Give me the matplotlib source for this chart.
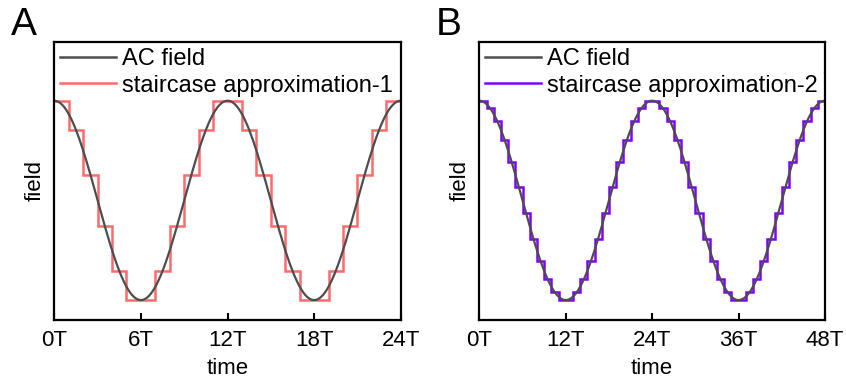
"""
AC field and its staircase approximations (panels A and B).
"""

import numpy as np
import matplotlib.pyplot as plt

plt.rcParams["font.family"] = ["Liberation Sans", "DejaVu Sans"]

# panel A: period 12T, one step per T
period_a = 12
ticks_a = [0, 6, 12, 18, 24]
tick_labels_a = ["0T", "6T", "12T", "18T", "24T"]
half_levels_a = [1.0, 0.707, 0.259, -0.259, -0.707, -1.0]

# panel B: period 24T, one step per T
period_b = 24
ticks_b = [0, 12, 24, 36, 48]
tick_labels_b = ["0T", "12T", "24T", "36T", "48T"]
half_levels_b = [1.0, 0.924, 0.793, 0.609, 0.383, 0.131,
                 -0.131, -0.383, -0.609, -0.793, -0.924, -1.0]

ac_color = "#4d4d4d"
stair_a_color = "#ff6b6b"
stair_b_color = "#8000ff"


def stair_levels(half_levels, n_periods=2):
    one_period = list(half_levels) + list(half_levels[::-1])
    return np.array(one_period * n_periods)


def draw_panel(ax, period, ticks, tick_labels, half_levels, color, name, letter):
    levels = stair_levels(half_levels)
    t_end = ticks[-1]

    t = np.linspace(0, t_end, 1000)
    ac = np.cos(2 * np.pi * t / period)
    ax.plot(t, ac, color=ac_color, lw=1.6, label="AC field")

    edges = np.arange(len(levels) + 1)
    ax.stairs(levels, edges, color=color, lw=1.8, baseline=None, label=name)

    ax.set_xlim(0, t_end)
    ax.set_ylim(-1.2, 1.59)
    ax.set_xticks(ticks)
    ax.set_xticklabels(tick_labels)
    ax.set_yticks([])
    ax.tick_params(axis="x", direction="in", length=5, width=1.5,
                   labelsize=16, pad=7)
    for spine in ax.spines.values():
        spine.set_linewidth(1.6)

    ax.set_xlabel("time", fontsize=16, labelpad=5)
    ax.set_ylabel("field", fontsize=16, labelpad=6)

    leg = ax.legend(loc="upper left", frameon=False, fontsize=17,
                    handlelength=2.35, handletextpad=0.25, labelspacing=0.2,
                    borderaxespad=0.1, borderpad=0.15)
    for line in leg.get_lines():
        line.set_linewidth(1.8)

    ax.text(-0.125, 1.025, letter, transform=ax.transAxes, fontsize=28,
            ha="left", va="baseline")


def main():
    fig = plt.figure(figsize=(8.46, 3.83), dpi=100)
    ax_a = fig.add_axes([0.0642, 0.1645, 0.4095, 0.726])
    ax_b = fig.add_axes([0.5666, 0.1645, 0.4086, 0.726])

    draw_panel(ax_a, period_a, ticks_a, tick_labels_a, half_levels_a,
               stair_a_color, "staircase approximation-1", "A")
    draw_panel(ax_b, period_b, ticks_b, tick_labels_b, half_levels_b,
               stair_b_color, "staircase approximation-2", "B")

    fig.savefig("out.png", dpi=100)


if __name__ == "__main__":
    main()
